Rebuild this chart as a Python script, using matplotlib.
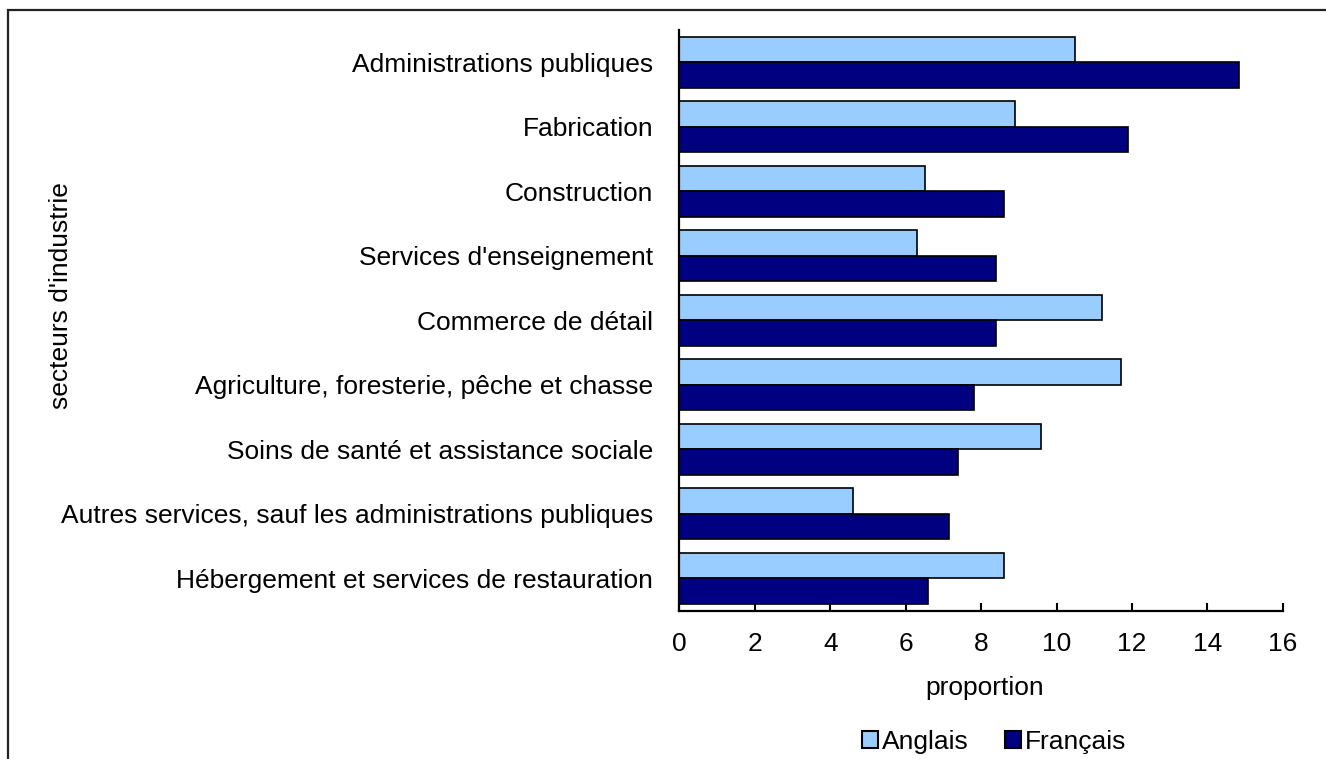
import numpy as np
import matplotlib
matplotlib.use("Agg")
import matplotlib.pyplot as plt
from matplotlib.patches import Rectangle, Patch

plt.rcParams['font.family'] = ['Liberation Sans', 'DejaVu Sans']

# industry sectors, top to bottom
sectors = [
    "Administrations publiques",
    "Fabrication",
    "Construction",
    "Services d'enseignement",
    "Commerce de détail",
    "Agriculture, foresterie, pêche et chasse",
    "Soins de santé et assistance sociale",
    "Autres services, sauf les administrations publiques",
    "Hébergement et services de restauration",
]
anglais = [10.5, 8.9, 6.5, 6.3, 11.2, 11.7, 9.6, 4.6, 8.6]
francais = [14.85, 11.9, 8.6, 8.4, 8.4, 7.8, 7.4, 7.15, 6.6]
xticks = [0, 2, 4, 6, 8, 10, 12, 14, 16]

W, H = 1326, 759
fig = plt.figure(figsize=(W / 100, H / 100), dpi=100)

# plot area in pixels
left, right, top, bottom = 679.5, 1282.7, 30, 610.7
ax = fig.add_axes([left / W, 1 - bottom / H, (right - left) / W, (bottom - top) / H])

FS = 19
y = np.arange(len(sectors))
bh = 0.395
ax.barh(y - bh / 2, anglais, height=bh, color='#99CCFF', edgecolor='black', linewidth=1.2, label='Anglais')
ax.barh(y + bh / 2, francais, height=bh, color='#000080', edgecolor='black', linewidth=1.2, label='Français')

ax.set_ylim(len(sectors) - 0.5, -0.5)
ax.set_xlim(0, 16)
ax.set_xticks(xticks)
ax.set_xticklabels([str(t) for t in xticks], fontsize=FS)
ax.set_yticks(y)
ax.set_yticklabels(sectors, fontsize=FS)
ax.tick_params(axis='x', direction='in', length=6, width=1.5, pad=15)
ax.tick_params(axis='y', length=0, pad=19)

for s in ['top', 'right']:
    ax.spines[s].set_visible(False)
for s in ['left', 'bottom']:
    ax.spines[s].set_linewidth(1.6)

fig.text(985 / W, 1 - 688 / H, "proportion", fontsize=FS, ha='center', va='center')
fig.text(61 / W, 1 - 296 / H, "secteurs d'industrie", fontsize=FS, rotation=90, ha='center', va='center')

handles = [Patch(facecolor='#99CCFF', edgecolor='black', linewidth=1.5),
           Patch(facecolor='#000080', edgecolor='black', linewidth=1.5)]
fig.legend(handles, ['Anglais', 'Français'], loc='center', bbox_to_anchor=(994 / W, 1 - 742 / H),
           ncol=2, frameon=False, fontsize=FS, handlelength=0.6, handleheight=0.6,
           handletextpad=0.15, columnspacing=1.4, borderpad=0)

# outer chart frame, cut off on the right and bottom
fig.patches.append(Rectangle((8 / W, -0.1), 1.2, 1.1 - 10 / H, transform=fig.transFigure,
                             fill=False, edgecolor='#222222', linewidth=1.6))

fig.savefig("out.png", dpi=100)
